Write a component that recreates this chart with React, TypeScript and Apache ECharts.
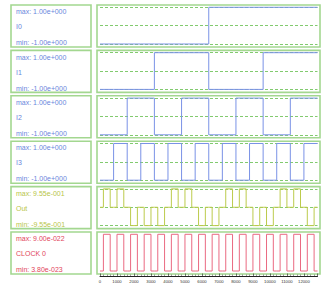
import React, { useEffect, useRef } from "react";
import * as echarts from "echarts";

// ---- data ----
const stepTimes = [0, 800, 1600, 2400, 3200, 4000, 4800, 5600, 6400, 7200, 8000, 8800, 9600, 10400, 11200, 12000, 12800];
const I0 = [-1, -1, -1, -1, -1, -1, -1, -1, 1, 1, 1, 1, 1, 1, 1, 1];
const I1 = [-1, -1, -1, -1, 1, 1, 1, 1, -1, -1, -1, -1, 1, 1, 1, 1];
const I2 = [-1, -1, 1, 1, -1, -1, 1, 1, -1, -1, 1, 1, -1, -1, 1, 1];
const I3 = [-1, 1, -1, 1, -1, 1, -1, 1, -1, 1, -1, 1, -1, 1, -1, 1];
const OUT = [0.955, 0.955, -0.955, -0.955, -0.955, 0.955, 0.955, -0.955, -0.955, 0.955, 0.955, -0.955, -0.955, 0.955, 0.955, -0.955];
const pulseOnOffset = 200;
const pulseOffOffset = 600;
const CLOCK_HIGH = 9.0e-22;
const CLOCK_LOW = 3.8e-23;
const OUT_MAX = 0.955;
const OUT_MIN = -0.955;
const IN_MAX = 1;
const IN_MIN = -1;

const rowNames = ["I0", "I1", "I2", "I3", "Out", "CLOCK 0"];
const maxLabels = ["max: 1.00e+000", "max: 1.00e+000", "max: 1.00e+000", "max: 1.00e+000", "max: 9.55e-001", "max: 9.00e-022"];
const minLabels = ["min: -1.00e+000", "min: -1.00e+000", "min: -1.00e+000", "min: -1.00e+000", "min: -9.55e-001", "min: 3.80e-023"];
const X_MIN = 0;
const X_MAX = 12800;
const X_INTERVAL = 1000;

// ---- builders ----
function stepSeries(vals: number[]) {
  const pts: number[][] = [];
  vals.forEach((v, k) => {
    pts.push([stepTimes[k], v]);
    pts.push([stepTimes[k + 1], v]);
  });
  return pts;
}
function pulseSeries(vals: number[], base: number) {
  const pts: number[][] = [];
  vals.forEach((v, k) => {
    const t0 = stepTimes[k];
    pts.push([t0, base]);
    pts.push([t0 + pulseOnOffset, base]);
    pts.push([t0 + pulseOnOffset, v]);
    pts.push([t0 + pulseOffOffset, v]);
    pts.push([t0 + pulseOffOffset, base]);
    pts.push([stepTimes[k + 1], base]);
  });
  return pts;
}
const CLOCK = OUT.map(() => CLOCK_HIGH);

const BLUE = "#7a92e6";
const rowData = [
  { data: stepSeries(I0), min: IN_MIN, max: IN_MAX, color: BLUE, text: "#6a86dc" },
  { data: stepSeries(I1), min: IN_MIN, max: IN_MAX, color: BLUE, text: "#6a86dc" },
  { data: stepSeries(I2), min: IN_MIN, max: IN_MAX, color: BLUE, text: "#6a86dc" },
  { data: stepSeries(I3), min: IN_MIN, max: IN_MAX, color: BLUE, text: "#6a86dc" },
  { data: pulseSeries(OUT, 0), min: OUT_MIN, max: OUT_MAX, color: "#bccb4c", text: "#b8c548" },
  { data: pulseSeries(CLOCK, CLOCK_LOW), min: CLOCK_LOW, max: CLOCK_HIGH, color: "#ea6a82", text: "#e2455a" },
];

const ROW_TOP0 = 5;
const ROW_PITCH = 45.4;
const ROW_H = 42;
const PLOT_LEFT = 100;
const PLOT_RIGHT = 317.5;
const BOX_L_X = 11;
const BOX_L_W = 80;
const BOX_R_X = 97;
const BOX_R_W = 223;
const BORDER = "#a3d790";
const DASH = "#62bd4a";

export default function App() {
  const ref = useRef<HTMLDivElement>(null);
  useEffect(() => {
    if (!ref.current) return;
    const chart = echarts.init(ref.current, null, { renderer: "svg" });
    const grids: any[] = [];
    const xAxes: any[] = [];
    const yAxes: any[] = [];
    const series: any[] = [];
    const graphics: any[] = [];
    rowData.forEach((r, i) => {
      const top = ROW_TOP0 + ROW_PITCH * i;
      const gTop = top + 2.3;
      const gBottom = top + ROW_H - 3;
      grids.push({ left: PLOT_LEFT, width: PLOT_RIGHT - PLOT_LEFT, top: gTop, height: gBottom - gTop });
      xAxes.push({ gridIndex: i, type: "value", min: X_MIN, max: X_MAX, show: false });
      yAxes.push({ gridIndex: i, type: "value", min: r.min, max: r.max, show: false });
      const mid = (r.min + r.max) / 2;
      series.push({
        type: "line",
        xAxisIndex: i,
        yAxisIndex: i,
        data: r.data,
        showSymbol: false,
        symbol: "none",
        clip: false,
        z: 3,
        lineStyle: { color: r.color, width: 1 },
        markLine: {
          silent: true,
          symbol: "none",
          label: { show: false },
          lineStyle: { color: DASH, type: [3, 2], width: 0.8 },
          data: [{ yAxis: r.min }, { yAxis: mid }, { yAxis: r.max }],
          z: 2,
        },
      });
      graphics.push({
        type: "rect",
        shape: { x: BOX_L_X, y: top, width: BOX_L_W, height: ROW_H },
        style: { fill: "none", stroke: BORDER, lineWidth: 1.6 },
      });
      graphics.push({
        type: "rect",
        shape: { x: BOX_R_X, y: top, width: BOX_R_W, height: ROW_H },
        style: { fill: "none", stroke: BORDER, lineWidth: 1.6 },
      });
      const font = { fontFamily: "Liberation Sans", fontSize: 7, fill: r.text, verticalAlign: "middle" };
      graphics.push({ type: "text", x: 16, y: top + 6.7, style: { ...font, text: maxLabels[i] } });
      graphics.push({ type: "text", x: 16, y: top + 21.7, style: { ...font, text: rowNames[i] } });
      graphics.push({ type: "text", x: 16, y: top + 37.7, style: { ...font, text: minLabels[i] } });
    });
    // bottom time axis
    const ai = rowData.length;
    grids.push({ left: PLOT_LEFT, width: PLOT_RIGHT - PLOT_LEFT, top: 270, height: 6 });
    xAxes.push({
      gridIndex: ai,
      type: "value",
      min: X_MIN,
      max: X_MAX,
      interval: X_INTERVAL,
      position: "bottom",
      axisLine: { show: true, lineStyle: { color: "#222", width: 1 } },
      axisTick: { show: true, inside: true, length: 2.5, lineStyle: { color: "#222", width: 0.6 } },
      minorTick: { show: true, splitNumber: 5, length: 1.5, lineStyle: { color: "#444", width: 0.5 } },
      splitLine: { show: false },
      axisLabel: {
        fontSize: 4.2,
        color: "#333",
        margin: 3.5,
        fontFamily: "Liberation Sans",
        showMaxLabel: false,
        formatter: (v: number) => String(v),
      },
    });
    yAxes.push({ gridIndex: ai, type: "value", show: false, min: 0, max: 1 });

    chart.setOption({
      animation: false,
      backgroundColor: "#ffffff",
      grid: grids,
      xAxis: xAxes,
      yAxis: yAxes,
      series,
      graphic: graphics,
    });
    return () => chart.dispose();
  }, []);
  return (
    <div
      ref={ref}
      style={{ position: "fixed", left: 0, top: 0, width: 332, height: 287, background: "#fff" }}
    />
  );
}
